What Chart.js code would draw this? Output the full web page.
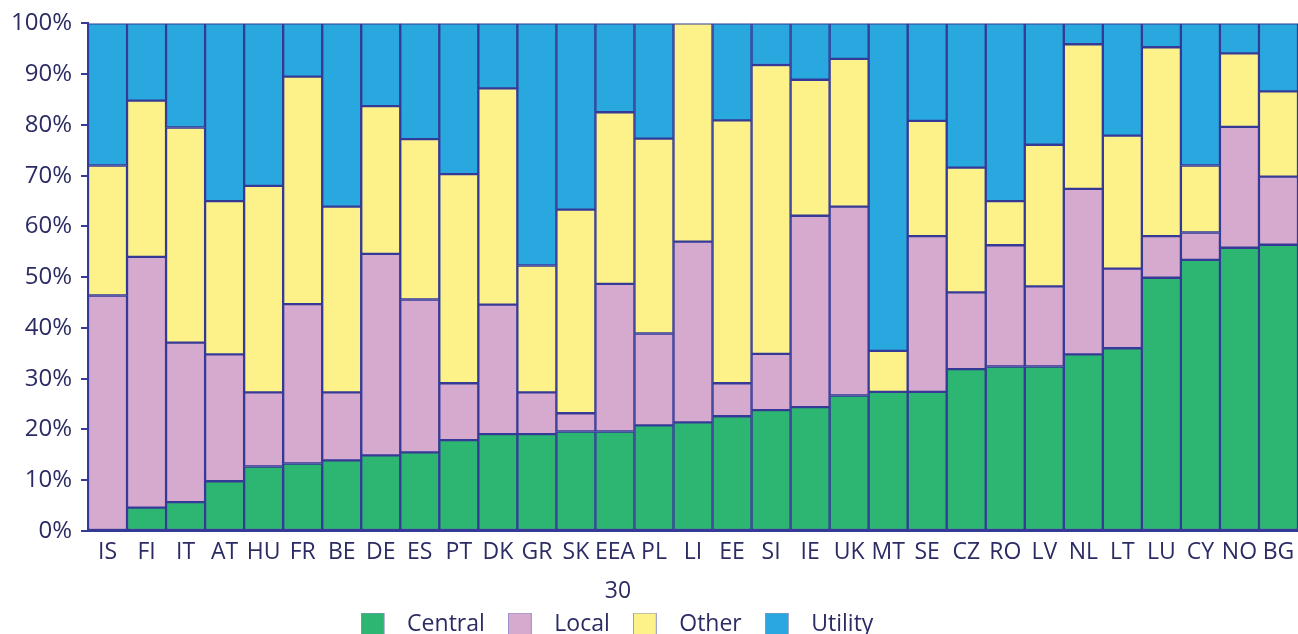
<!DOCTYPE html>
<html lang="en">
<head>
    <meta charset="UTF-8">
    <title>Central, local, other and utility shares</title>
    <script src="https://cdn.jsdelivr.net/npm/chart.js"></script>
    <style>
        body { margin: 0; overflow: hidden; background: #fff; }
        #wrap { width: 1298px; height: 646px; }
    </style>
</head>
<body>
<div id="wrap"><canvas id="myChart"></canvas></div>
<script>
    const countries = ['IS', 'FI', 'IT', 'AT', 'HU', 'FR', 'BE', 'DE', 'ES', 'PT', 'DK', 'GR', 'SK', 'EEA', 'PL', 'LI',
        'EE', 'SI', 'IE', 'UK', 'MT', 'SE', 'CZ', 'RO', 'LV', 'NL', 'LT', 'LU', 'CY', 'NO', 'BG'];
    const central = [0, 4.6, 5.7, 9.8, 12.7, 13.3, 13.9, 14.9, 15.5, 17.9, 19.1, 19.1, 19.6, 19.6, 20.8, 21.4,
        22.6, 23.8, 24.4, 26.7, 27.4, 27.4, 31.9, 32.4, 32.4, 34.8, 36.0, 49.9, 53.4, 55.8, 56.4];
    const local = [46.4, 49.4, 31.4, 25.0, 14.6, 31.4, 13.4, 39.7, 30.1, 11.2, 25.5, 8.2, 3.6, 29.1, 18.1, 35.6,
        6.5, 11.1, 37.7, 37.2, 0, 30.7, 15.1, 23.9, 15.8, 32.6, 15.7, 8.2, 5.4, 23.8, 13.4];
    const other = [25.6, 30.8, 42.4, 30.2, 40.7, 44.8, 36.6, 29.1, 31.6, 41.2, 42.6, 25.0, 40.1, 33.8, 38.4, 43.0,
        51.8, 56.9, 26.8, 29.1, 8.1, 22.7, 24.6, 8.7, 27.9, 28.5, 26.2, 37.2, 13.2, 14.5, 16.8];
    const utility = [28.0, 15.2, 20.5, 35.0, 32.0, 10.5, 36.1, 16.3, 22.8, 29.7, 12.8, 47.7, 36.7, 17.5, 22.7, 0,
        19.1, 8.2, 11.1, 7.0, 64.5, 19.2, 28.4, 35.0, 23.9, 4.1, 22.1, 4.7, 28.0, 5.9, 13.4];
    const seriesNames = ['Central', 'Local', 'Other', 'Utility'];
    const pageNote = '30';

    const colors = ['#2db672', '#d6a9ce', '#fdf28a', '#29a8e0'];
    const edge = '#353a97';
    const ink = '#2b2c63';
    const family = '"Open Sans", "Noto Sans", sans-serif';

    // legend swatch with extra room on the right, so the text sits further from the box
    const swatch = (color) => {
        const c = document.createElement('canvas');
        c.width = 35;
        c.height = 24;
        const g = c.getContext('2d');
        g.fillStyle = color;
        g.fillRect(0.5, 0.5, 23, 23);
        g.strokeStyle = '#8d90c8';
        g.lineWidth = 1;
        g.strokeRect(0.5, 0.5, 23, 23);
        return c;
    };

    const extras = {
        id: 'extras',
        afterLayout(chart) {
            chart.legend.left -= 32;
            chart.legend.right -= 32;
        },
        afterDraw(chart) {
            const ctx = chart.ctx;
            ctx.save();
            ctx.font = '23px ' + family;
            ctx.fillStyle = ink;
            ctx.textAlign = 'center';
            ctx.textBaseline = 'middle';
            ctx.fillText(pageNote, 618, 591);
            ctx.restore();
        }
    };

    const series = [central, local, other, utility];

    new Chart(document.getElementById('myChart'), {
        type: 'bar',
        data: {
            labels: countries,
            datasets: series.map((data, i) => ({
                label: seriesNames[i],
                data: data,
                backgroundColor: colors[i],
                borderColor: edge,
                borderWidth: 1.5,
                borderSkipped: false,
                barPercentage: 1,
                categoryPercentage: 1
            }))
        },
        options: {
            responsive: true,
            maintainAspectRatio: false,
            animation: false,
            layout: {padding: {top: 21, right: 0, left: 0, bottom: 0}},
            scales: {
                x: {
                    stacked: true,
                    grid: {display: false},
                    border: {color: edge, width: 2},
                    ticks: {
                        autoSkip: false, maxRotation: 0, minRotation: 0, padding: 0,
                        color: ink, font: {family: family, size: 23}
                    },
                    afterFit: (s) => { s.height = 59; }
                },
                y: {
                    stacked: true,
                    min: 0,
                    max: 100,
                    grid: {drawOnChartArea: false, drawTicks: true, tickLength: 7, color: edge, lineWidth: 2},
                    border: {color: edge, width: 2},
                    ticks: {
                        stepSize: 10, padding: 9, color: ink, font: {family: family, size: 24},
                        callback: (v) => v + '%'
                    },
                    afterFit: (s) => { s.width = 88; }
                }
            },
            plugins: {
                tooltip: {enabled: false},
                legend: {
                    position: 'bottom',
                    labels: {
                        usePointStyle: true,
                        pointStyleWidth: 35,
                        padding: 23,
                        color: ink,
                        font: {family: family, size: 23},
                        generateLabels: (chart) => Chart.defaults.plugins.legend.labels.generateLabels(chart)
                            .map((item, i) => Object.assign(item, {pointStyle: swatch(colors[i])}))
                    }
                }
            }
        },
        plugins: [extras]
    });
</script>
</body>
</html>
